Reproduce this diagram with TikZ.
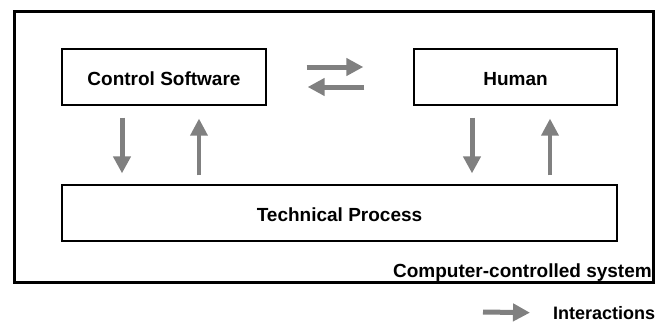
\documentclass[tikz,border=0pt]{standalone}
\usepackage{fontspec}
\setmainfont{Liberation Sans}
\usetikzlibrary{arrows.meta}
\definecolor{flowgray}{RGB}{128,128,128}
\tikzset{
  unitbox/.style={draw=black, line width=1.3pt, minimum height=56pt, inner sep=0pt,
    text height=17.7pt, text depth=0pt,
    font=\fontsize{19}{22}\selectfont\bfseries},
  iarrow/.style={draw=flowgray, line width=5pt,
    -{Triangle[length=17pt,width=17pt]}},
  iarrowthin/.style={iarrow, line width=3.6pt},
}
\begin{document}
\begin{tikzpicture}[x=1pt, y=-1pt]
  \useasboundingbox (0,0) rectangle (661,324);

  % enclosing system
  \node[draw=black, line width=3pt, minimum width=639pt, minimum height=271pt, inner sep=0pt]
    (sys) at (333.5,146.5) {};
  \node[anchor=base east, inner sep=0pt, font=\fontsize{19}{22}\selectfont\bfseries]
    (syslabel) at (652,277) {Computer-controlled system};

  % components
  \node[unitbox, minimum width=204pt] (cs) at (164,77) {Control Software};
  \node[unitbox, minimum width=203pt] (hu) at (515.5,77) {Human};
  \node[unitbox, minimum width=555pt] (tp) at (339.5,213) {Technical Process};

  % software <-> human
  \draw[iarrow, shorten <=40pt, shorten >=50pt]
    ([yshift=10pt]cs.east) -- ([yshift=10pt]cs.east -| hu.west);
  \draw[iarrow, shorten <=49pt, shorten >=41pt]
    ([yshift=-10pt]hu.west) -- ([yshift=-10pt]hu.west -| cs.east);

  % software <-> process
  \draw[iarrow, shorten <=12pt, shorten >=11pt]
    ([xshift=-42pt]cs.south) -- ([xshift=-42pt]cs.south |- tp.north);
  \draw[iarrowthin, shorten <=9pt, shorten >=13pt]
    ([xshift=35pt]cs.south |- tp.north) -- ([xshift=35pt]cs.south);

  % human <-> process
  \draw[iarrow, shorten <=12pt, shorten >=11pt]
    ([xshift=-43.5pt]hu.south) -- ([xshift=-43.5pt]hu.south |- tp.north);
  \draw[iarrowthin, shorten <=9pt, shorten >=13pt]
    ([xshift=34.5pt]hu.south |- tp.north) -- ([xshift=34.5pt]hu.south);

  % legend
  \coordinate (legstart) at (483,312);
  \node[anchor=west, inner sep=0pt, font=\fontsize{18}{22}\selectfont\bfseries]
    (legtext) at (553,313) {Interactions};
  \draw[iarrow, shorten >=23pt] (legstart) -- (legtext.west);
\end{tikzpicture}
\end{document}
